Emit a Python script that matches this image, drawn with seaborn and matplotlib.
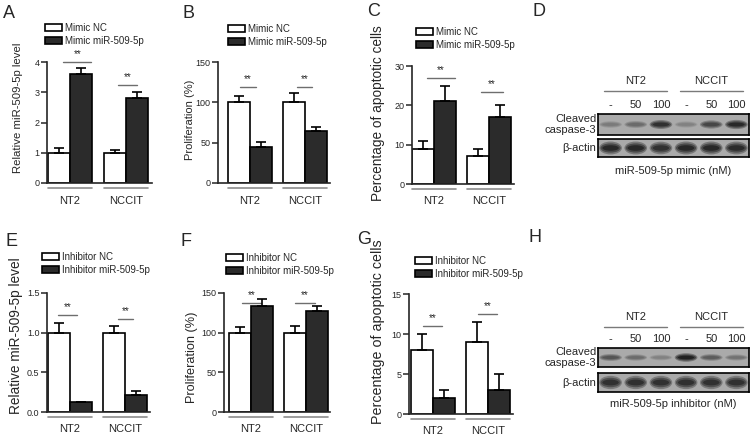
import numpy as np
import pandas as pd
import matplotlib
matplotlib.use('Agg')
import matplotlib.pyplot as plt
import matplotlib.transforms as mtransforms
from matplotlib.patches import Ellipse
import seaborn as sns

sns.set_style('ticks')
plt.rcParams['font.family'] = ['Liberation Sans', 'DejaVu Sans']

# ---- data ----
cells = ['NT2', 'NCCIT']

mimic_labels = ['Mimic NC', 'Mimic miR-509-5p']
inhib_labels = ['Inhibitor NC', 'Inhibitor miR-509-5p']

a_nc, a_nc_err = [1.0, 1.0], [0.15, 0.09]
a_mir, a_mir_err = [3.6, 2.8], [0.2, 0.22]
b_nc, b_nc_err = [100, 100], [8, 11]
b_mir, b_mir_err = [45, 64], [6, 6]
c_nc, c_nc_err = [9, 7], [2, 2]
c_mir, c_mir_err = [21, 17], [4, 3]

e_nc, e_nc_err = [1.0, 1.0], [0.12, 0.08]
e_inh, e_inh_err = [0.12, 0.22], [0.01, 0.04]
f_nc, f_nc_err = [100, 100], [7, 8]
f_inh, f_inh_err = [134, 127], [8, 7]
g_nc, g_nc_err = [8, 9], [2, 2.5]
g_inh, g_inh_err = [2, 3], [1, 2]

a_ticks = [0, 1, 2, 3, 4]
b_ticks = [0, 50, 100, 150]
c_ticks = [0, 10, 20, 30]
e_ticks = [0.0, 0.5, 1.0, 1.5]
e_ticklabels = ['0.0', '0.5', '1.0', '1.5']
f_ticks = [0, 50, 100, 150]
g_ticks = [0, 5, 10, 15]

# significance line heights per cell
a_sig = [4.0, 3.24]
b_sig = [119, 119]
c_sig = [26.9, 23.4]
e_sig = [1.22, 1.17]
f_sig = [137, 137]
g_sig = [11, 12.5]

# western blots
lane_doses = ['-', '50', '100', '-', '50', '100']
d_caspase = [0.35, 0.45, 0.85, 0.3, 0.7, 0.9]
d_actin = [0.9, 0.9, 0.85, 0.9, 0.9, 0.88]
h_caspase = [0.6, 0.45, 0.3, 0.95, 0.55, 0.4]
h_actin = [0.85, 0.85, 0.85, 0.85, 0.85, 0.85]

W, H = 752, 438
fig = plt.figure(figsize=(W / 100, H / 100), dpi=100)


def px_axes(x0, y0, x1, y1):
    return fig.add_axes([x0 / W, 1 - y1 / H, (x1 - x0) / W, (y1 - y0) / H])


def bar_panel(layout, nc, nc_err, trt, trt_err, groups, ymax, yticks, ylabel,
              ylab_xy, ylab_size, sig, sig_span, leg_xy, yticklabels=None):
    xa, c0, c1, xr, yt, yb = layout
    u = c1 - c0
    ax = px_axes(xa, yt, xr, yb)
    df = pd.DataFrame({'cell': cells * 2,
                       'group': [groups[0]] * 2 + [groups[1]] * 2,
                       'value': nc + trt})
    sns.barplot(data=df, x='cell', y='value', hue='group', palette=['white', '#2b2b2b'],
                edgecolor='black', linewidth=1.2, errorbar=None, ax=ax)
    for cont, errs in zip(ax.containers, [nc_err, trt_err]):
        xs = [b.get_x() + b.get_width() / 2 for b in cont]
        hs = [b.get_height() for b in cont]
        ax.errorbar(xs, hs, yerr=[np.zeros(len(errs)), errs], fmt='none', ecolor='black',
                    elinewidth=1.2, capsize=3.5, capthick=1.2, zorder=3)
    ax.set_xlim((xa - c0) / u, (xr - c0) / u)
    ax.set_ylim(0, ymax)
    ax.set_yticks(yticks)
    if yticklabels is not None:
        ax.set_yticklabels(yticklabels)
    ax.set_xlabel('')
    ax.set_ylabel('')
    sns.despine(ax=ax)
    for s in ['left', 'bottom']:
        ax.spines[s].set_linewidth(1.2)
    ax.tick_params(axis='x', length=0, pad=9, labelsize=8)
    ax.tick_params(axis='y', length=4, width=1.1, labelsize=6.5, pad=1.5)

    # group underlines and significance marks
    trans = mtransforms.blended_transform_factory(ax.transData, ax.transAxes)
    h_px = yb - yt
    nc_bars, trt_bars = ax.containers[0], ax.containers[1]
    for j in range(len(cells)):
        x0 = nc_bars[j].get_x()
        x1 = trt_bars[j].get_x() + trt_bars[j].get_width()
        ax.plot([x0, x1], [-5 / h_px] * 2, color='#8c8c8c', lw=1.2,
                transform=trans, clip_on=False)
        xc = (x0 + x1) / 2
        lo, hi = sig_span[j]
        ax.plot([xc + lo, xc + hi], [sig[j]] * 2, color='#6e6e6e', lw=1.0, clip_on=False)
        ax.text(xc + (lo + hi) / 2, sig[j] + ymax * 0.025, '**', ha='center', va='bottom',
                fontsize=7)

    handles, labels = ax.get_legend_handles_labels()
    ax.legend(handles, labels, loc='upper left',
              bbox_to_anchor=(leg_xy[0] / W, 1 - leg_xy[1] / H), bbox_transform=fig.transFigure,
              frameon=False, fontsize=7, handlelength=1.7, handleheight=0.8,
              handletextpad=0.4, labelspacing=0.3, borderpad=0, borderaxespad=0)
    fig.text(ylab_xy[0] / W, 1 - ylab_xy[1] / H, ylabel, rotation=90, ha='center',
             va='center', fontsize=ylab_size)
    return ax


def band_color(v, bg=0.68, dark=0.1):
    g = bg - v * (bg - dark)
    return (g, g, g)


def blot_panel(x0, x1, yc0, yc1, ya0, ya1, caspase, actin, xlabel, grp_y, line_y, xlab_y):
    ax1 = px_axes(x0, yc0, x1, yc1)
    ax2 = px_axes(x0, ya0, x1, ya1)
    for ax, vals, thick in [(ax1, caspase, 0.55), (ax2, actin, 0.9)]:
        ax.set_facecolor('#aaaaaa')
        ax.set_xlim(-0.5, len(vals) - 0.5)
        ax.set_ylim(-1, 1)
        for s in ax.spines.values():
            s.set_linewidth(1.2)
            s.set_color('black')
        for i, v in enumerate(vals):
            h = thick * (0.6 + 0.6 * v)
            ax.add_patch(Ellipse((i, 0), 0.9, h * 1.4, color=band_color(v * 0.4), lw=0))
            ax.add_patch(Ellipse((i, 0), 0.8, h, color=band_color(v * 0.75), lw=0))
            ax.add_patch(Ellipse((i, 0), 0.65, h * 0.6, color=band_color(v), lw=0))
        ax.set_yticks([])
    ax2.set_xticks([])
    ax1.set_xticks(range(len(lane_doses)))
    ax1.set_xticklabels(lane_doses)
    ax1.tick_params(top=True, labeltop=True, bottom=False, labelbottom=False,
                    length=0, pad=3, labelsize=8)
    hpx = yc1 - yc0
    trans = mtransforms.blended_transform_factory(ax1.transData, ax1.transAxes)
    for k, name in enumerate(cells):
        lanes = np.arange(3) + 3 * k
        ax1.text(lanes.mean(), 1 + (yc0 - grp_y) / hpx, name, transform=trans,
                 ha='center', va='center', fontsize=8)
        ax1.plot([lanes[0] - 0.25, lanes[-1] + 0.25], [1 + (yc0 - line_y) / hpx] * 2,
                 transform=trans, color='#7a7a7a', lw=1.0, clip_on=False)
    ax1.text(-0.012, 0.5, 'Cleaved\ncaspase-3', transform=ax1.transAxes, ha='right',
             va='center', fontsize=8, linespacing=1.05)
    ax2.text(-0.012, 0.5, 'β-actin', transform=ax2.transAxes, ha='right',
             va='center', fontsize=8)
    ax2.text(0.5, -(xlab_y - ya1) / (ya1 - ya0), xlabel, transform=ax2.transAxes,
             ha='center', va='center', fontsize=8)


# top row
bar_panel((47, 70, 126, 152, 62, 183), a_nc, a_nc_err, a_mir, a_mir_err, mimic_labels,
          4, a_ticks, 'Relative miR-509-5p level', (18, 108), 8.2, a_sig,
          [(-0.12, 0.38), (-0.14, 0.2)], (45, 23))
bar_panel((218, 250, 305, 330, 62, 183), b_nc, b_nc_err, b_mir, b_mir_err, mimic_labels,
          150, b_ticks, 'Proliferation (%)', (190, 120), 8, b_sig,
          [(-0.18, 0.11), (-0.15, 0.13)], (228, 24))
bar_panel((412, 434, 489, 514, 66, 184), c_nc, c_nc_err, c_mir, c_mir_err, mimic_labels,
          30, c_ticks, 'Percentage of apoptotic cells', (378, 113), 9.8, c_sig,
          [(-0.13, 0.38), (-0.15, 0.25)], (416, 27))
blot_panel(598, 749, 114, 135, 139, 157, d_caspase, d_actin, 'miR-509-5p mimic (nM)',
           81, 91, 171)

# bottom row
bar_panel((47, 70, 125, 150, 293, 412), e_nc, e_nc_err, e_inh, e_inh_err, inhib_labels,
          1.5, e_ticks, 'Relative miR-509-5p level', (16, 336), 9.8, e_sig,
          [(-0.22, 0.13), (-0.13, 0.15)], (42, 252), yticklabels=e_ticklabels)
bar_panel((224, 251, 306, 330, 293, 412), f_nc, f_nc_err, f_inh, f_inh_err, inhib_labels,
          150, f_ticks, 'Proliferation (%)', (192, 357), 9.2, f_sig,
          [(-0.16, 0.18), (-0.2, 0.16)], (226, 253))
bar_panel((409, 433, 488, 513, 294, 414), g_nc, g_nc_err, g_inh, g_inh_err, inhib_labels,
          15, g_ticks, 'Percentage of apoptotic cells', (378, 332), 10.3, g_sig,
          [(-0.18, 0.16), (-0.18, 0.16)], (415, 256))
blot_panel(598, 749, 348, 367, 373, 392, h_caspase, h_actin, 'miR-509-5p inhibitor (nM)',
           317, 327, 404)

for letter, (x, y) in zip('ABCDEFGH', [(3, 13), (183, 13), (367, 12), (532, 11),
                                       (6, 241), (180, 241), (357, 240), (529, 237)]):
    fig.text(x / W, 1 - y / H, letter, fontsize=13, ha='left', va='center')

fig.savefig('out.png', dpi=100)
